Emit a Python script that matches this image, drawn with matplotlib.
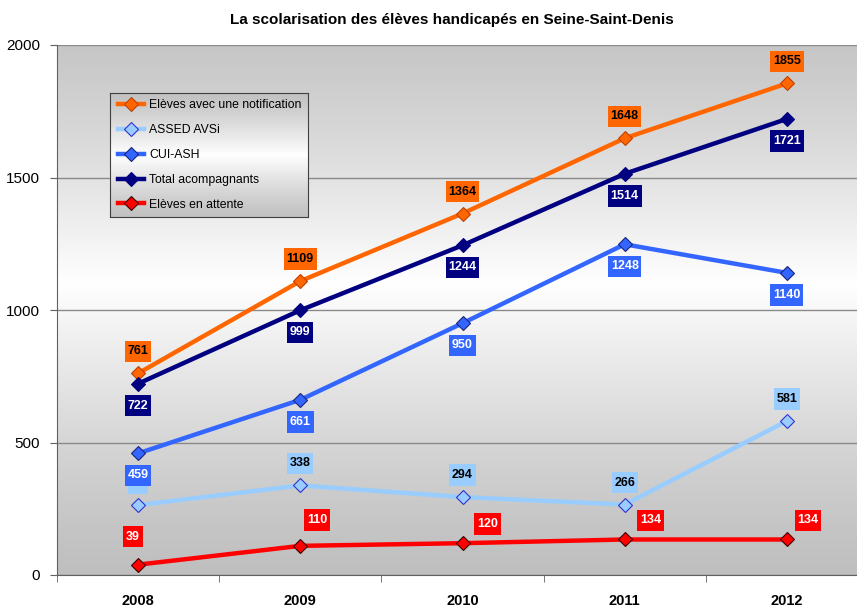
import numpy as np
import matplotlib
matplotlib.use('Agg')
import matplotlib.pyplot as plt
from matplotlib.path import Path

annees = ['2008', '2009', '2010', '2011', '2012']
notification = [761, 1109, 1364, 1648, 1855]
assed_avsi = [264, 338, 294, 266, 581]
cui_ash = [459, 661, 950, 1248, 1140]
total_acc = [722, 999, 1244, 1514, 1721]
attente = [39, 110, 120, 134, 134]

noms = ['Elèves avec une notification', 'ASSED AVSi', 'CUI-ASH',
        'Total acompagnants', 'Elèves en attente']

police = ['Liberation Sans', 'DejaVu Sans']
plt.rcParams['font.family'] = police


def degrade(vals):
    col = np.repeat(vals[:, None], 2, axis=1)
    return np.stack([col, col, col], axis=-1)


def boite(x0, y0, width, height, mutation_size):
    # rectangle plus haut que large (marges différentes)
    px = 0.22 * mutation_size
    py = 0.38 * mutation_size
    x0, x1 = x0 - px, x0 + width + px
    y0, y1 = y0 - py, y0 + height + py
    return Path([(x0, y0), (x1, y0), (x1, y1), (x0, y1), (x0, y0)], closed=True)


fig = plt.figure(figsize=(8.57, 6.08), dpi=100)
ax = fig.add_axes([57 / 857, 33 / 608, 811 / 857, 530 / 608])

# fond en dégradé gris / blanc / gris
t = np.linspace(0, 1, 256)
g = 0.75 + 0.25 * (1 - np.abs(t - 0.45) / 0.55) ** 1.3
ax.imshow(degrade(g), extent=[0, 1, 0, 1], transform=ax.transAxes, aspect='auto',
          zorder=0, origin='upper')

x = np.arange(len(annees))
series = [
    (notification, '#ff6600', '#ff6600', '#c04000', 'black', (0, 22)),
    (assed_avsi, '#99ccff', '#99ccff', '#3333cc', 'black', (0, 22)),
    (cui_ash, '#3366ff', '#3366ff', '#1a237e', 'white', (0, -22)),
    (total_acc, '#000080', '#000080', '#000080', 'white', (0, -22)),
    (attente, '#ff0000', '#ff0000', '#400000', 'white', None),
]
offs_attente = [(-5, 28), (17, 26), (25, 19), (26, 19), (21, 19)]
# étiquette masquée dans l'original (ASSED AVSi 2008, cachée sous 459)
masquees = {(1, 0)}

lignes = []
for i, (vals, col, mfc, mec, tcol, off) in enumerate(series):
    ln, = ax.plot(x, vals, color=col, lw=3.2, marker='D', ms=7.5,
                  mfc=mfc, mec=mec, mew=0.8, zorder=3, label=noms[i])
    lignes.append(ln)
    for j, v in enumerate(vals):
        o = offs_attente[j] if off is None else off
        txt = '    ' if (i, j) in masquees else str(v)
        ax.annotate(txt, (x[j], v), xytext=o, textcoords='offset pixels',
                    ha='center', va='center', fontsize=9, fontweight='bold',
                    color=tcol, zorder=4 + i * 0.1,
                    bbox=dict(boxstyle=boite, fc=col, ec='none'))

ax.set_xlim(-0.5, 4.5)
ax.set_ylim(0, 2000)
ax.set_yticks([0, 500, 1000, 1500, 2000])
ax.set_xticks(x)
ax.set_xticklabels(annees, fontweight='bold', fontsize=10.5)
ax.set_xticks(np.arange(-0.5, 5, 1), minor=True)
ax.tick_params(axis='x', which='major', length=0, pad=14)
ax.tick_params(axis='x', which='minor', length=5, color='#606060')
ax.tick_params(axis='y', length=5, color='#606060', labelsize=11, pad=7)
ax.grid(axis='y', color='#8a8a8a', lw=1, zorder=1)
ax.set_axisbelow(True)
for s in ['top', 'right']:
    ax.spines[s].set_visible(False)
ax.spines['left'].set_color('#606060')
ax.spines['bottom'].set_color('#606060')

fig.text(452 / 857, 1 - 20 / 608, 'La scolarisation des élèves handicapés en Seine-Saint-Denis',
         ha='center', va='center', fontsize=11, fontweight='bold')

# légende avec fond dégradé
axl = fig.add_axes([110 / 857, (608 - 217) / 608, 198 / 857, 124 / 608])
gl = 0.76 + 0.24 * (1 - np.abs(t - 0.5) / 0.5) ** 1.2
axl.imshow(degrade(gl), extent=[0, 1, 0, 1], aspect='auto')
axl.set_xticks([])
axl.set_yticks([])
for s in axl.spines.values():
    s.set_color('#404040')
axl.legend(handles=lignes, loc='center left', frameon=False,
           handlelength=2.1, handletextpad=0.45, labelspacing=1.05,
           borderaxespad=0.25, prop={'size': 8.8})

fig.savefig('out.png', dpi=100)
